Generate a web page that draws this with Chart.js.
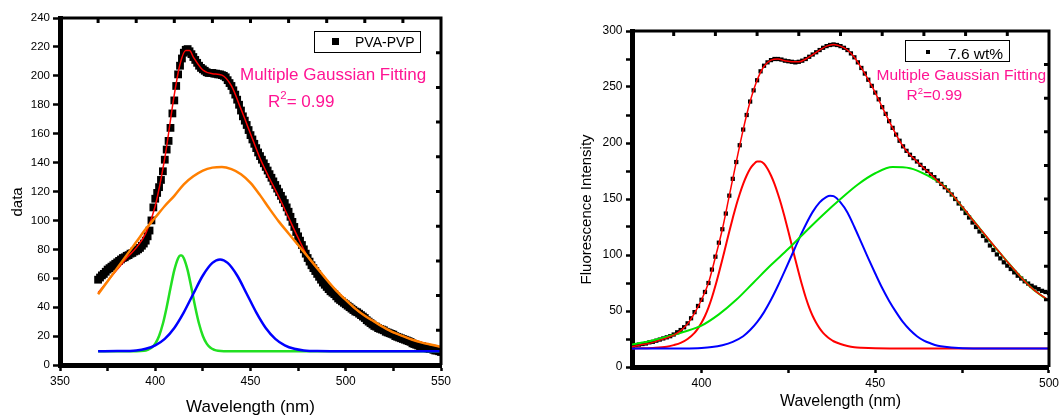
<!DOCTYPE html>
<html>
<head>
<meta charset="utf-8">
<script src="https://cdn.jsdelivr.net/npm/chart.js@4.4.1/dist/chart.umd.min.js"></script>
<style>
  body { margin: 0; background: #fff; width: 1062px; height: 418px; position: relative; overflow: hidden;
         font-family: Arial, "Liberation Sans", sans-serif; }
  canvas { position: absolute; top: 0; }
  .t { position: absolute; white-space: nowrap; line-height: 1; color: #000; }
  .pink { color: #ff1493; }
  .box { position: absolute; border: 1px solid #000; box-sizing: border-box; }
  .mk { position: absolute; background: #000; }
  .sup { position: relative; }
</style>
</head>
<body>
<canvas id="leftChart" width="460" height="418" style="left:0"></canvas>
<canvas id="rightChart" width="502" height="418" style="left:560px"></canvas>

<div class="box" style="left:314px;top:31px;width:107px;height:22px"></div>
<div class="mk" style="left:332px;top:38px;width:7px;height:7px"></div>
<div class="t" style="left:355px;top:35px;font-size:14px">PVA-PVP</div>
<div class="t pink" style="left:240px;top:65.5px;font-size:17px">Multiple Gaussian Fitting</div>
<div class="t pink" style="left:268px;top:93px;font-size:17px">R<span class="sup" style="font-size:11.5px;top:-8.5px">2</span>= 0.99</div>

<div class="box" style="left:905px;top:40px;width:105px;height:22px"></div>
<div class="mk" style="left:926px;top:50px;width:4px;height:4px"></div>
<div class="t" style="left:948px;top:46px;font-size:15.5px">7.6 wt%</div>
<div class="t pink" style="left:876.5px;top:66.5px;font-size:15.5px">Multiple Gaussian Fitting</div>
<div class="t pink" style="left:906.5px;top:87px;font-size:15.5px">R<span class="sup" style="font-size:9.5px;top:-6px">2</span>=0.99</div>

<script>
// ---- left panel (PVA-PVP), data every 1 nm from 370 to 550
const leftNm = [];
for (let x = 370; x <= 550; x++) leftNm.push(x);
const leftData = [
  59, 60.5, 62, 63, 64.5, 66, 67, 68, 69, 70,
  71, 72, 73, 74, 74.5, 75.5, 76, 77, 77.5, 78.5,
  79, 80, 81, 82.5, 84, 86, 89, 93, 100, 109,
  115, 119, 123, 128, 134, 142, 149, 155, 164, 174,
  183, 193, 201, 207, 212, 216, 218, 218.5, 217, 215,
  213, 211, 209, 207, 205.5, 204.5, 203.5, 202.5, 202, 202,
  202, 201.5, 201.5, 201, 201, 200.5, 200, 199, 197, 195,
  193, 190, 187, 183.5, 180, 176, 172, 169, 166, 162.5,
  159, 156, 153, 150, 147, 144.5, 142, 139.5, 137, 134.5,
  132, 129.5, 127, 124.5, 122, 119.5, 117, 114.5, 112, 109,
  106, 102.5, 99, 95.5, 92, 89, 86, 83, 80, 77,
  74, 71.5, 69, 67, 65, 63, 61, 59, 57, 55.5,
  54, 52.5, 51, 50, 49, 47.5, 46, 45, 44, 43,
  42, 41, 40, 39, 38, 37, 36.5, 35.5, 34.5, 33.5,
  32.5, 31, 30, 29, 28, 27, 26.5, 25.5, 25, 24.5,
  24, 23, 22.5, 22, 21.5, 21, 20, 19.5, 19, 18.5,
  18, 17.5, 17, 16.5, 16, 15, 14.5, 14, 13.5, 13,
  13, 12.5, 12, 11.5, 11, 11, 10.5, 10, 10, 9.5,
  9
];
const leftFitNm = [370, 375, 380, 385, 390, 395, 400, 405, 410, 413, 416, 418, 420, 425, 430, 435, 440, 445, 450, 455,
  460, 465, 470, 475, 480, 485, 490, 495, 500, 505, 510, 515, 520, 525, 530, 535, 540, 545, 550];
const leftFit = [50, 58, 66, 74, 81, 91, 110, 143, 187, 208, 217.5, 217.5, 213, 204, 201.5, 200.5, 193, 177, 160, 143,
  129, 116, 102, 88, 75, 67, 59, 51.5, 45, 39, 34, 30, 26, 22.5, 20, 17.5, 15.5, 14, 12.5];
const leftOrangeNm = [];
for (let x = 370; x <= 550; x += 5) leftOrangeNm.push(x);
const leftOrange = [49, 58, 67, 76, 85, 94, 102, 110, 117, 125,
  130.5, 134.5, 136.5, 137, 135.5, 132, 126, 117.5, 108, 99,
  91, 83, 75, 67, 59, 51.5, 45, 39, 34, 30,
  26, 22.5, 20, 17.5, 15.5, 14, 12.5];
const leftGreenNm = [370, 390, 394, 396, 398, 400, 402, 404, 406, 408, 410, 412, 413, 414, 415, 417, 419, 421, 423, 425,
  427, 429, 431, 433, 436, 450, 550];
const leftGreen = [9.5, 9.5, 9.8, 10.5, 11.9, 14.8, 20.1, 28.5, 40, 53.2, 65.6, 73.9, 75.8, 75.8, 73.9, 65.6, 53.2, 40, 28.5, 20.1,
  14.8, 11.9, 10.5, 9.8, 9.5, 9.5, 9.5];
const leftBlueNm = [370, 380, 390, 395, 400, 405, 410, 415, 420, 425, 430, 434, 438, 443, 448, 453, 458, 463, 468, 473,
  478, 485, 495, 550];
const leftBlue = [9.5, 9.6, 10.1, 11.2, 13.6, 18.1, 25.6, 36.4, 49.3, 61.9, 70.6, 73, 70.6, 61.9, 49.3, 36.4, 25.6, 18.1, 13.6, 11.2,
  10.1, 9.6, 9.5, 9.5];

// ---- right panel (7.6 wt%), data every 1 nm from 380 to 500
const rightNm = [];
for (let x = 380; x <= 500; x++) rightNm.push(x);
const rightData = [
  19, 19.5, 20, 20.5, 21, 22, 22.5, 23.5, 24.5, 25.5,
  26.5, 27.5, 29, 31, 33, 35.5, 39, 43.5, 49, 54.5,
  60, 67, 75, 87, 98.5, 111, 123, 137, 153, 168,
  183, 198, 212, 225, 237, 247, 256, 264, 269, 272,
  274, 275, 275, 274.5, 273.5, 273, 272.5, 272, 272.5, 273.5,
  275, 277, 279, 281, 283, 285, 286.5, 287.5, 288, 287.5,
  286.5, 285, 283, 280, 276.5, 272, 267, 262, 256.5, 251,
  245, 239, 232, 226, 219.5, 213.5, 207.5, 202, 197, 193,
  189.5, 186.5, 183.5, 180.5, 177.5, 175, 172, 169.5, 166.5, 163.5,
  160.5, 157.5, 154, 150, 146, 141.5, 137.5, 133.5, 129, 125,
  121, 117, 113, 108.5, 104.5, 100.5, 97, 93.5, 90.5, 87.5,
  84.5, 81.5, 79, 76.5, 74.5, 72.5, 71, 69.5, 68, 67,
  66
];
const rightFitNm = [];
for (let x = 380; x <= 500; x += 2) rightFitNm.push(x);
const rightFit = [18, 19.5, 20.5, 22, 24, 26, 28.5, 32.5, 38.5, 48,
  60, 75, 98, 123, 153, 183, 212, 237, 256, 268.5,
  274, 275, 273.5, 272.5, 272.5, 275, 279, 283, 286.5, 288,
  286.5, 283, 276.5, 267, 256.5, 245, 232, 219.5, 207.5, 197,
  189.5, 183.5, 177.5, 172, 166, 160.5, 154.5, 147, 139.5, 131.5,
  124, 116.5, 109, 101.5, 94, 87, 80, 73.5, 68, 63.5,
  59.5];
const rightRedNm = [380, 386, 390, 392, 394, 396, 398, 399, 400, 401, 402, 403, 404, 405, 406, 407, 408, 409, 410, 411,
  412, 413, 414, 415, 416, 417, 418, 419, 420, 421, 422, 423, 424, 425, 426, 427, 428, 429, 430, 431,
  432, 433, 434, 435, 436, 437, 438, 440, 442, 444, 446, 450, 460, 500];
const rightRed = [16.5, 17, 18, 19.5, 21.5, 25, 30.5, 34.5, 39.5, 45.5, 53, 62, 72.5, 84, 96, 108.5, 121, 133, 144.5, 154.5,
  163.5, 171, 177, 181, 183.5, 183.5, 181.5, 177, 171, 163.5, 154.5, 144.5, 133, 121, 108.5, 96, 84, 72.5, 62, 53,
  45.5, 39.5, 34.5, 30.5, 27.5, 25, 23, 20.5, 18.8, 17.7, 17.2, 16.7, 16.5, 16.5];
const rightBlueNm = [380, 395, 400, 403, 406, 409, 412, 414, 416, 418, 420, 422, 424, 426, 428, 430, 432, 434, 436, 437,
  438, 440, 442, 444, 446, 448, 450, 452, 454, 456, 458, 460, 462, 464, 466, 468, 470, 474, 480, 500];
const rightBlue = [16.5, 16.6, 17, 17.8, 19.5, 22.5, 27.5, 33, 40, 49, 60, 72.5, 86, 100, 114, 127, 138.5, 147, 152, 153,
  152.5, 147, 138, 125, 111, 97, 83.5, 70.5, 59, 49, 40, 33, 27.5, 23.5, 21, 19, 18, 17, 16.6, 16.5];
const rightGreenNm = [];
for (let x = 380; x <= 500; x += 5) rightGreenNm.push(x);
const rightGreen = [20, 23, 27, 31.5, 37, 47, 60, 75.5, 91, 105.5,
  121, 136, 150, 163, 173, 178.5, 177.5, 171, 161, 143,
  124, 105, 87, 70.5, 59];

// minor ticks drawn on the top / right frame
const leftTopTicks = [370, 390, 410, 430, 450, 470, 490, 510, 530];
const leftRightTicks = [24, 48, 72, 96, 120, 144, 168, 192, 216];
const rightTopTicks = [392, 404, 416, 428, 440, 452, 464, 476, 488];
const rightRightTicks = [30, 60, 90, 120, 150, 180, 210, 240, 270];

const FONT = 'Arial, "Liberation Sans", sans-serif';
const pts = (xs, ys) => xs.map((x, i) => ({ x: x, y: ys[i] }));

function line(xs, ys, color, width) {
  return {
    data: pts(xs, ys), showLine: true, borderColor: color, borderWidth: width,
    pointRadius: 0, cubicInterpolationMode: 'monotone', fill: false
  };
}
function squares(xs, ys, r) {
  return {
    data: pts(xs, ys), showLine: false, pointStyle: 'rect', pointRadius: r,
    backgroundColor: '#000', borderWidth: 0, pointBorderWidth: 0
  };
}

// closes the box and puts small ticks on top and right
const framePlugin = {
  id: 'frame',
  afterDraw(chart, args, o) {
    const { ctx, chartArea: a } = chart;
    const sx = chart.scales.x, sy = chart.scales.y;
    ctx.save();
    ctx.strokeStyle = '#000';
    ctx.lineWidth = 3;
    ctx.beginPath();
    ctx.moveTo(a.left, a.top);
    ctx.lineTo(a.right, a.top);
    ctx.lineTo(a.right, a.bottom);
    ctx.stroke();
    ctx.beginPath();
    o.top.forEach(v => {
      const x = sx.getPixelForValue(v);
      ctx.moveTo(x, a.top);
      ctx.lineTo(x, a.top + 5);
    });
    o.right.forEach(v => {
      const y = sy.getPixelForValue(v);
      ctx.moveTo(a.right, y);
      ctx.lineTo(a.right - 5, y);
    });
    ctx.stroke();
    ctx.restore();
  }
};

function axes(p) {
  return {
    x: {
      type: 'linear', min: p.xMin, max: p.xMax,
      afterFit: s => { s.height = p.xHeight; },
      ticks: {
        stepSize: p.xStep, includeBounds: false, autoSkip: false, maxRotation: 0,
        padding: p.xPad, color: '#000', font: { family: FONT, size: 12 },
        callback: v => (v % p.xLabelEvery === 0 ? v : '')
      },
      grid: { drawOnChartArea: false, tickLength: 6, tickWidth: 2.5, tickColor: '#000' },
      border: { color: '#000', width: 5 },
      title: { display: true, text: 'Wavelength (nm)', color: '#000',
        font: { family: FONT, size: p.xTitleSize }, padding: { top: 0, bottom: p.xTitlePad } }
    },
    y: {
      type: 'linear', min: p.yMin, max: p.yMax,
      afterFit: s => { s.width = p.yWidth; },
      ticks: {
        stepSize: p.yStep, includeBounds: false, autoSkip: false,
        padding: p.yPad, color: '#000', font: { family: FONT, size: p.yFont },
        callback: v => (v % p.yLabelEvery === 0 ? v : '')
      },
      grid: { drawOnChartArea: false, tickLength: p.yTickLen, tickWidth: 2.5, tickColor: '#000' },
      border: { color: '#000', width: 5 },
      title: { display: true, text: p.yTitle, color: '#000',
        font: { family: FONT, size: 15 }, padding: { top: p.yTitlePad, bottom: 0 } }
    }
  };
}

new Chart(document.getElementById('leftChart'), {
  type: 'scatter',
  data: {
    datasets: [
      line(leftOrangeNm, leftOrange, '#ff7f00', 2.5),
      line(leftFitNm, leftFit, '#ff0000', 1.5),
      line(leftBlueNm, leftBlue, '#0000ff', 2.5),
      line(leftGreenNm, leftGreen, '#22e022', 2.5),
      squares(leftNm, leftData, 5.5)
    ]
  },
  options: {
    responsive: false, animation: false, devicePixelRatio: 1,
    layout: { padding: { top: 18, right: 19, left: 0, bottom: 0 } },
    plugins: {
      legend: { display: false }, tooltip: { enabled: false },
      frame: { top: leftTopTicks, right: leftRightTicks }
    },
    scales: axes({
      xMin: 350, xMax: 550, xStep: 25, xLabelEvery: 50, xHeight: 53, xPad: 3.5, xTitleSize: 17, xTitlePad: 0,
      yMin: 0, yMax: 240, yStep: 20, yLabelEvery: 20, yWidth: 60, yPad: 3, yFont: 11.5, yTickLen: 7,
      yTitle: 'data     ', yTitlePad: 9
    })
  },
  plugins: [framePlugin]
});

new Chart(document.getElementById('rightChart'), {
  type: 'scatter',
  data: {
    datasets: [
      line(rightFitNm, rightFit, '#ff0000', 1.5),
      line(rightGreenNm, rightGreen, '#00e400', 2),
      line(rightBlueNm, rightBlue, '#0000ff', 2),
      line(rightRedNm, rightRed, '#ff0000', 2),
      squares(rightNm, rightData, 3)
    ]
  },
  options: {
    responsive: false, animation: false, devicePixelRatio: 1,
    layout: { padding: { top: 31, right: 12, left: 0, bottom: 0 } },
    plugins: {
      legend: { display: false }, tooltip: { enabled: false },
      frame: { top: rightTopTicks, right: rightRightTicks }
    },
    scales: axes({
      xMin: 380, xMax: 500, xStep: 25, xLabelEvery: 50, xHeight: 51, xPad: 3, xTitleSize: 16, xTitlePad: 6.7,
      yMin: 0, yMax: 300, yStep: 25, yLabelEvery: 50, yWidth: 72, yPad: 3.5, yFont: 12, yTickLen: 6,
      yTitle: 'Fluorescence Intensity     ', yTitlePad: 18
    })
  },
  plugins: [framePlugin]
});
</script>
</body>
</html>
